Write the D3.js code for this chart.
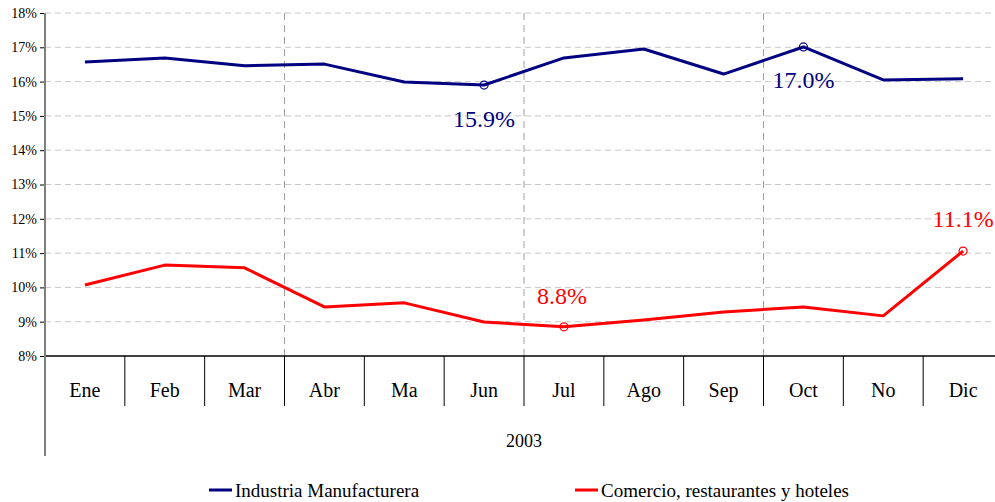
<!DOCTYPE html>
<html>
<head>
<meta charset="utf-8">
<script src="https://cdn.jsdelivr.net/npm/d3@7"></script>
<style>
  body { margin: 0; background: #fff; }
  svg { display: block; font-family: "Liberation Serif", "DejaVu Serif", serif; }
</style>
</head>
<body>
<div id="chart-container"></div>
<script>
const months = ["Ene", "Feb", "Mar", "Abr", "Ma", "Jun", "Jul", "Ago", "Sep", "Oct", "No", "Dic"];
const industria = [16.57, 16.69, 16.46, 16.51, 15.99, 15.90, 16.69, 16.95, 16.22, 17.01, 16.05, 16.08];
const comercio = [10.07, 10.65, 10.57, 9.43, 9.55, 8.99, 8.85, 9.05, 9.28, 9.43, 9.17, 11.06];
const yTicks = [8, 9, 10, 11, 12, 13, 14, 15, 16, 17, 18];
const yearLabel = "2003";
// marked points: [series, month index, label]
const callouts = [
  { s: 0, i: 5, text: "15.9%", dy: 34 },
  { s: 0, i: 9, text: "17.0%", dy: 33 },
  { s: 1, i: 6, text: "8.8%", dy: -31, dx: -2 },
  { s: 1, i: 11, text: "11.1%", dy: -32 }
];

const width = 995, height = 502;
const margin = { top: 13, left: 45, right: -8, bottom: 146 };
const colors = ["#000080", "#ff0000"];
const names = ["Industria Manufacturera", "Comercio, restaurantes y hoteles"];
const series = [industria, comercio];

const svg = d3.select("#chart-container").append("svg")
  .attr("width", width).attr("height", height);

const x = d3.scaleBand()
  .domain(months)
  .range([margin.left, width - margin.right]);
const y = d3.scaleLinear()
  .domain([8, 18])
  .range([height - margin.bottom, margin.top]);

const y0 = y(8);

// horizontal grid
svg.append("g")
  .selectAll("line")
  .data(yTicks.slice(1))
  .enter().append("line")
  .attr("x1", margin.left).attr("x2", width)
  .attr("y1", d => y(d)).attr("y2", d => y(d))
  .attr("stroke", "#c8c8c8")
  .attr("stroke-dasharray", "6,4");

// quarter separators
svg.append("g")
  .selectAll("line")
  .data(["Abr", "Jul", "Oct"])
  .enter().append("line")
  .attr("x1", d => x(d)).attr("x2", d => x(d))
  .attr("y1", margin.top).attr("y2", y0)
  .attr("stroke", "#a0a0a0")
  .attr("stroke-dasharray", "7,5");

// x axis
const xAxis = svg.append("g").attr("transform", `translate(0,${y0})`);
xAxis.append("line")
  .attr("x1", margin.left).attr("x2", width)
  .attr("stroke", "#000").attr("stroke-width", 1.5);
xAxis.selectAll(".sep")
  .data(months.slice(1))
  .enter().append("line")
  .attr("class", "sep")
  .attr("x1", d => x(d)).attr("x2", d => x(d))
  .attr("y1", 0).attr("y2", 50)
  .attr("stroke", "#000").attr("stroke-width", 1);
xAxis.selectAll("text")
  .data(months)
  .enter().append("text")
  .attr("x", d => x(d) + x.bandwidth() / 2)
  .attr("y", 41)
  .attr("text-anchor", "middle")
  .style("font-size", "20px")
  .text(d => d);
xAxis.append("text")
  .attr("x", (x("Jun") + x("Jul") + x.bandwidth()) / 2)
  .attr("y", 91)
  .attr("text-anchor", "middle")
  .style("font-size", "18px")
  .text(yearLabel);

// y axis
const yAxis = svg.append("g")
  .attr("transform", `translate(${margin.left},0)`)
  .call(d3.axisLeft(y).tickValues(yTicks).tickSize(5).tickFormat(d => d + "%"));
yAxis.select(".domain").remove();
yAxis.selectAll(".tick line").attr("stroke", "#000");
yAxis.selectAll(".tick text")
  .attr("x", -8)
  .style("font-family", "Liberation Serif, serif")
  .style("font-size", "14px")
  .attr("fill", "#000");
svg.append("line")
  .attr("x1", margin.left).attr("x2", margin.left)
  .attr("y1", margin.top).attr("y2", 456)
  .attr("stroke", "#808080").attr("stroke-width", 2);

// lines
const line = d3.line()
  .x((d, i) => x(months[i]) + x.bandwidth() / 2)
  .y(d => y(d));

svg.append("g")
  .selectAll("path")
  .data(series)
  .enter().append("path")
  .attr("d", line)
  .attr("fill", "none")
  .attr("stroke", (d, i) => colors[i])
  .attr("stroke-width", 3)
  .attr("stroke-linejoin", "round");

// callouts
const cg = svg.append("g");
callouts.forEach(c => {
  const cx = x(months[c.i]) + x.bandwidth() / 2;
  const cy = y(series[c.s][c.i]);
  cg.append("circle")
    .attr("cx", cx).attr("cy", cy).attr("r", 4)
    .attr("fill", "none")
    .attr("stroke", colors[c.s]).attr("stroke-width", 1.2);
  cg.append("text")
    .attr("x", cx + (c.dx || 0)).attr("y", cy + c.dy)
    .attr("dy", "0.35em")
    .attr("text-anchor", "middle")
    .attr("fill", colors[c.s])
    .style("font-size", "24px")
    .text(c.text);
});

// legend
const legendX = [209, 575];
const lg = svg.append("g").attr("transform", "translate(0,490)");
names.forEach((n, i) => {
  lg.append("line")
    .attr("x1", legendX[i]).attr("x2", legendX[i] + 23)
    .attr("stroke", colors[i]).attr("stroke-width", 3);
  lg.append("text")
    .attr("x", legendX[i] + 26).attr("dy", "0.35em")
    .style("font-size", "19px")
    .text(n);
});
</script>
</body>
</html>
